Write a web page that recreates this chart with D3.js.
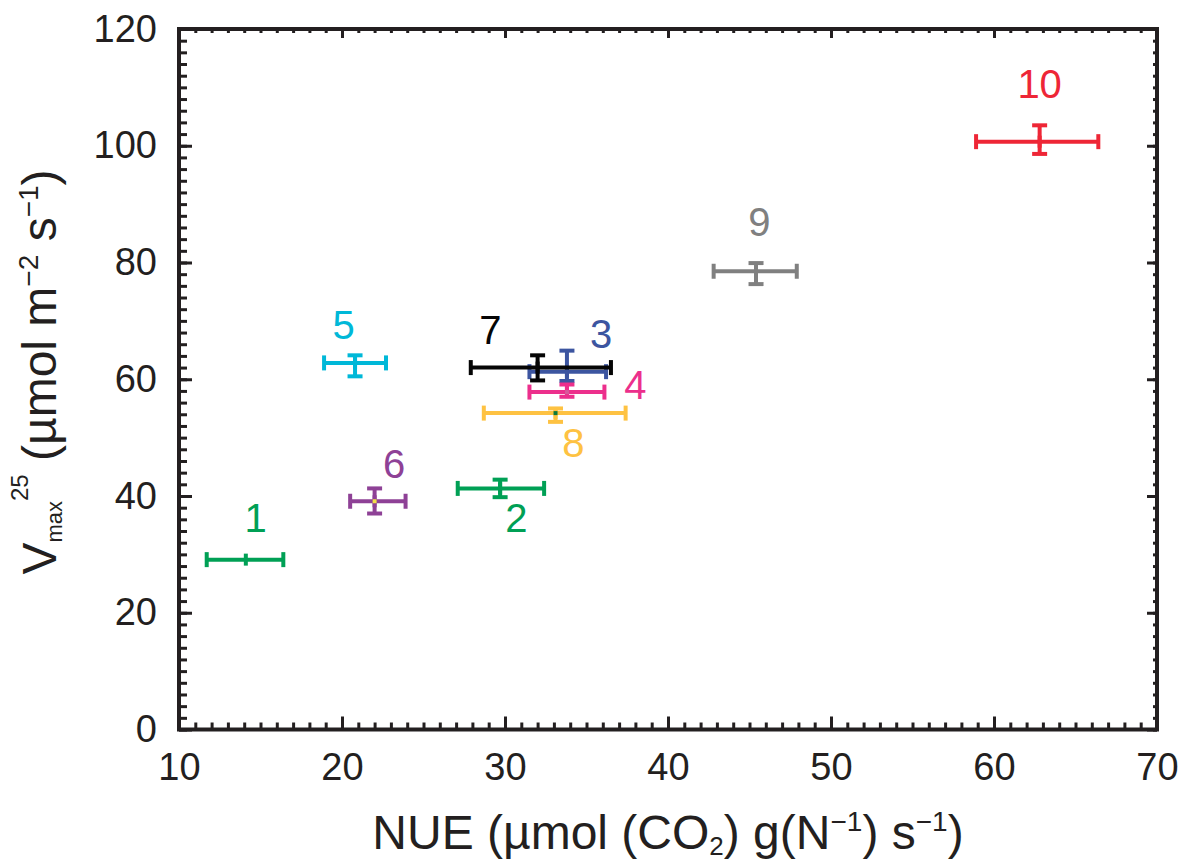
<!DOCTYPE html>
<html>
<head>
<meta charset="utf-8">
<script src="https://cdn.jsdelivr.net/npm/d3@7"></script>
<style>
  body { margin: 0; background: #fff; }
  svg text { font-family: "Liberation Sans", Arial, Helvetica, sans-serif; fill: #231f20; }
</style>
</head>
<body>
<svg id="chart" width="1182" height="863"></svg>
<script>
// groups 1..10
const groups = ['1', '2', '3', '4', '5', '6', '7', '8', '9', '10']
// NUE (x) with lower / upper error limits
const nue   = [14.1, 29.7, 33.8, 33.8, 20.8, 22.0, 32.0, 33.1, 45.4, 62.8]
const nueLo = [11.7, 27.1, 31.5, 31.5, 18.9, 20.5, 27.9, 28.7, 42.8, 58.9]
const nueHi = [16.4, 32.4, 36.2, 36.1, 22.7, 23.9, 36.5, 37.4, 47.9, 66.4]
// Vmax25 (y) with lower / upper error limits
const vmax   = [29.1, 41.3, 61.3, 57.8, 62.8, 39.1, 62.0, 54.2, 78.5, 100.7]
const vmaxLo = [29.1, 39.8, 59.7, 57.0, 60.5, 37.0, 59.8, 52.7, 76.3, 98.6]
const vmaxHi = [29.1, 42.8, 64.9, 59.1, 64.1, 41.3, 64.1, 55.0, 79.9, 103.5]
// where the group numbers sit (data units, baseline)
const labelX = [14.7, 30.7, 35.9, 38.0, 20.1, 23.2, 29.1, 34.2, 45.6, 62.8]
const labelY = [33.8, 33.8, 65.3, 56.6, 66.9, 43.0, 66.0, 46.6, 84.5, 108.2]

const xTicks = [10, 20, 30, 40, 50, 60, 70]
const yTicks = [0, 20, 40, 60, 80, 100, 120]

const colors = ['#00a055', '#00a055', '#3c55a0', '#ec2f8c', '#00b8d8',
                '#8e4196', '#050505', '#fec242', '#808080', '#ee2636']
// odd little centre dots some groups have
const dotColors = [null, null, null, '#d65a9a', null, '#f2e04a', null, '#0c7a3c', null, null]

const svg = d3.select('#chart')
const ink = '#231f20'

const x = d3.scaleLinear().domain([10, 70]).range([179, 1157])
const y = d3.scaleLinear().domain([0, 120]).range([729.5, 29])

// axes: ticks point inward on all four sides
function styleAxis(g) {
  g.select('.domain').remove()
  g.selectAll('line').attr('stroke', ink).attr('stroke-width', 3)
  g.attr('font-size', 38).attr('font-family', null).attr('color', ink)
}

const minorX = d3.range(10, 71, 1)
const minorY = d3.range(0, 121, 2)

svg.append('g').attr('transform', `translate(0,${y(0)})`)
  .call(d3.axisBottom(x).tickValues(minorX).tickSize(-7).tickFormat(''))
  .call(styleAxis)
svg.append('g').attr('transform', `translate(0,${y(0)})`)
  .call(d3.axisBottom(x).tickValues(xTicks).tickSize(-13).tickPadding(24))
  .call(styleAxis)

svg.append('g').attr('transform', `translate(0,${y(120)})`)
  .call(d3.axisTop(x).tickValues(minorX).tickSize(-4).tickFormat(''))
  .call(styleAxis)
svg.append('g').attr('transform', `translate(0,${y(120)})`)
  .call(d3.axisTop(x).tickValues(xTicks).tickSize(-9).tickFormat(''))
  .call(styleAxis)

svg.append('g').attr('transform', `translate(${x(10)},0)`)
  .call(d3.axisLeft(y).tickValues(minorY).tickSize(-8).tickFormat(''))
  .call(styleAxis)
svg.append('g').attr('transform', `translate(${x(10)},0)`)
  .call(d3.axisLeft(y).tickValues(yTicks).tickSize(-13).tickPadding(22))
  .call(styleAxis)

svg.append('g').attr('transform', `translate(${x(70)},0)`)
  .call(d3.axisRight(y).tickValues(minorY).tickSize(-4).tickFormat(''))
  .call(styleAxis)
svg.append('g').attr('transform', `translate(${x(70)},0)`)
  .call(d3.axisRight(y).tickValues(yTicks).tickSize(-10).tickFormat(''))
  .call(styleAxis)

// frame
svg.append('rect')
  .attr('x', x(10)).attr('y', y(120))
  .attr('width', x(70) - x(10)).attr('height', y(0) - y(120))
  .attr('fill', 'none').attr('stroke', ink).attr('stroke-width', 4)

// error bars
const cap = 7.5
const pts = svg.append('g').selectAll('g')
  .data(groups.map((g, i) => i))
  .enter().append('g')
  .attr('stroke', i => colors[i]).attr('stroke-width', 4)

pts.append('line')
  .attr('x1', i => x(nueLo[i])).attr('x2', i => x(nueHi[i]))
  .attr('y1', i => y(vmax[i])).attr('y2', i => y(vmax[i]))
pts.append('line')
  .attr('x1', i => x(nueLo[i])).attr('x2', i => x(nueLo[i]))
  .attr('y1', i => y(vmax[i]) - cap).attr('y2', i => y(vmax[i]) + cap)
pts.append('line')
  .attr('x1', i => x(nueHi[i])).attr('x2', i => x(nueHi[i]))
  .attr('y1', i => y(vmax[i]) - cap).attr('y2', i => y(vmax[i]) + cap)
// centre marker
pts.append('line')
  .attr('x1', i => x(nue[i])).attr('x2', i => x(nue[i]))
  .attr('y1', i => y(vmax[i]) - 6).attr('y2', i => y(vmax[i]) + 6)
pts.append('line')
  .attr('x1', i => x(nue[i])).attr('x2', i => x(nue[i]))
  .attr('y1', i => y(vmaxLo[i])).attr('y2', i => y(vmaxHi[i]))
pts.append('line')
  .attr('x1', i => x(nue[i]) - cap).attr('x2', i => x(nue[i]) + cap)
  .attr('y1', i => y(vmaxLo[i])).attr('y2', i => y(vmaxLo[i]))
  .attr('display', i => vmaxLo[i] === vmax[i] ? 'none' : null)
pts.append('line')
  .attr('x1', i => x(nue[i]) - cap).attr('x2', i => x(nue[i]) + cap)
  .attr('y1', i => y(vmaxHi[i])).attr('y2', i => y(vmaxHi[i]))
  .attr('display', i => vmaxHi[i] === vmax[i] ? 'none' : null)
pts.filter(i => dotColors[i]).append('rect')
  .attr('x', i => x(nue[i]) - 2).attr('y', i => y(vmax[i]) - 2)
  .attr('width', 4).attr('height', 4)
  .attr('stroke', 'none').attr('fill', i => dotColors[i])

// group numbers
svg.append('g').selectAll('text')
  .data(groups)
  .enter().append('text')
  .attr('x', (d, i) => x(labelX[i]))
  .attr('y', (d, i) => y(labelY[i]))
  .attr('text-anchor', 'middle')
  .attr('font-size', 40)
  .style('fill', (d, i) => colors[i])
  .text(d => d)

// x title
const xt = svg.append('text')
  .attr('x', (x(10) + x(70)) / 2).attr('y', 849)
  .attr('text-anchor', 'middle').attr('font-size', 48)
xt.append('tspan').text('NUE (µmol (CO')
xt.append('tspan').attr('font-size', 26).attr('dy', 6).text('2')
xt.append('tspan').attr('dy', -6).text(') g(N')
xt.append('tspan').attr('font-size', 28).attr('dy', -18).text('−1')
xt.append('tspan').attr('dy', 18).text(') s')
xt.append('tspan').attr('font-size', 28).attr('dy', -18).text('−1')
xt.append('tspan').attr('dy', 18).text(')')

// y title
const yt = svg.append('text')
  .attr('transform', `translate(56,372) rotate(-90)`)
  .attr('text-anchor', 'middle').attr('font-size', 48)
yt.append('tspan').text('V')
yt.append('tspan').attr('font-size', 22).attr('dy', 6).text('max')
yt.append('tspan').attr('font-size', 24).attr('dy', -34).text('25')
yt.append('tspan').attr('dy', 28).text(' (µmol m')
yt.append('tspan').attr('font-size', 28).attr('dy', -18).text('−2')
yt.append('tspan').attr('dy', 18).text(' s')
yt.append('tspan').attr('font-size', 28).attr('dy', -18).text('−1')
yt.append('tspan').attr('dy', 18).text(')')
</script>
</body>
</html>
